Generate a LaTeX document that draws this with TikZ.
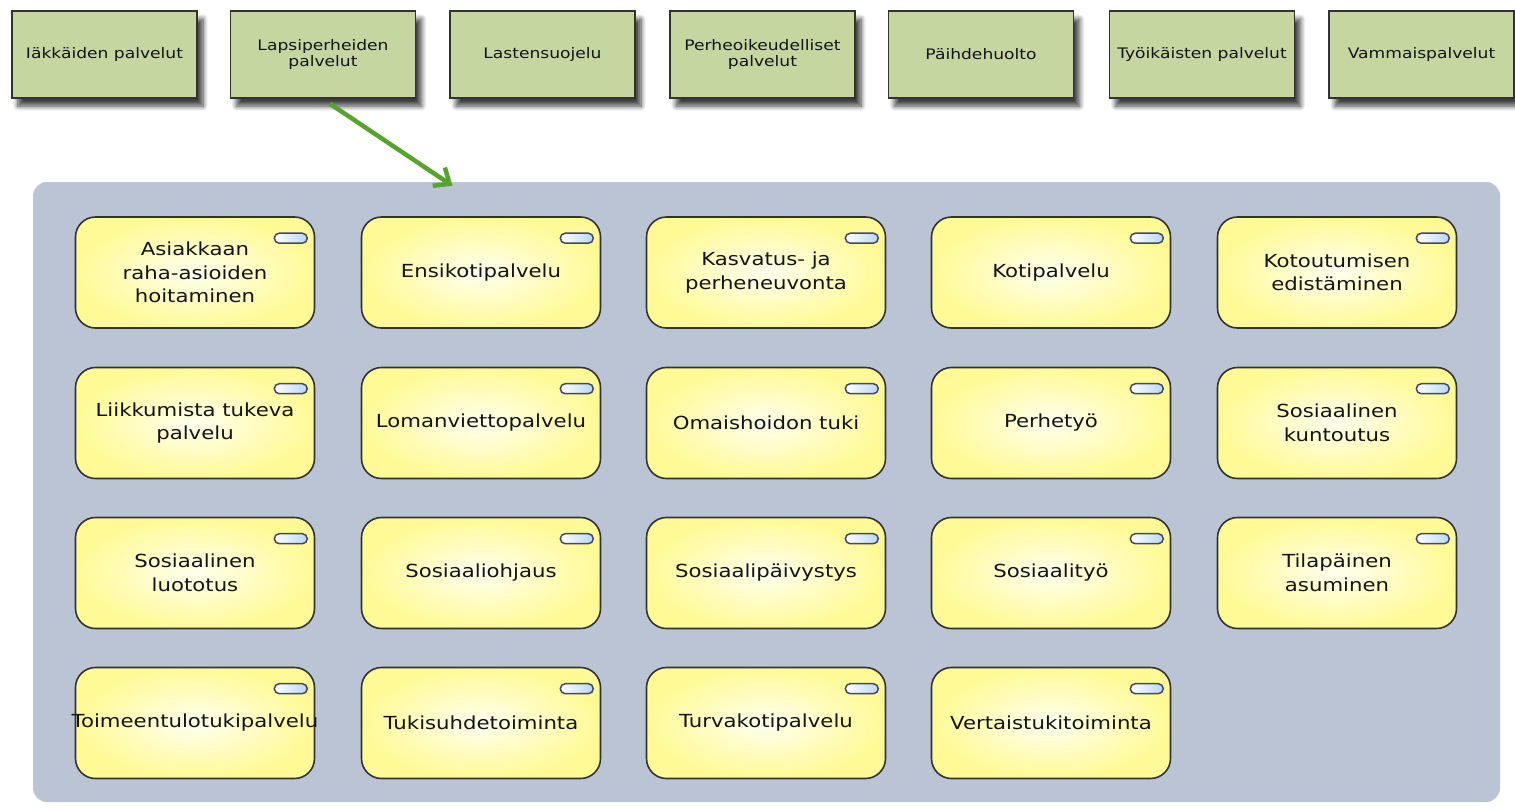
\documentclass[tikz,border=0pt]{standalone}
\usepackage{fontspec}
\setmainfont{DejaVu Sans}[FakeStretch=1.18]
\usetikzlibrary{arrows.meta,shadows.blur}
\definecolor{gfill}{RGB}{197,214,160}
\definecolor{cfill}{RGB}{186,196,213}
\definecolor{yout}{RGB}{255,250,150}
\definecolor{yin}{RGB}{255,255,238}
\definecolor{pillblue}{RGB}{185,215,248}
\definecolor{pillline}{RGB}{70,70,105}
\definecolor{arrgreen}{RGB}{88,162,48}
\definecolor{txt}{RGB}{20,20,20}
\definecolor{edge}{RGB}{50,50,50}
\tikzset{
  gbox/.style={draw=edge, line width=1.6pt, fill=gfill, minimum width=185pt, minimum height=87pt,
    inner sep=0pt, align=center, text=txt, font=\fontsize{14.5}{16}\selectfont,
    blur shadow={shadow xshift=6pt, shadow yshift=-8pt, shadow blur radius=5pt, shadow blur steps=8, shadow opacity=75}},
  container/.style={fill=cfill, rounded corners=14pt, minimum width=1467pt, minimum height=620pt, inner sep=0pt},
  ybox/.style={draw=edge, line width=1.6pt, rounded corners=20pt, inner color=yin, outer color=yout,
    minimum width=239pt, minimum height=111pt, inner sep=0pt},
  ytext/.style={align=center, text=txt, inner sep=0pt, font=\fontsize{18}{23.5}\selectfont},
  pill/.style={draw=pillline, line width=1.5pt, rounded corners=5pt, left color=white, right color=pillblue,
    minimum width=33pt, minimum height=10pt, inner sep=0pt},
  arr/.style={draw=arrgreen, line width=4.5pt, -{Straight Barb[length=13pt,width=22pt,line width=4.5pt]}}
}
\begin{document}
\begin{tikzpicture}[x=1pt,y=-1pt]
\useasboundingbox (0,0) rectangle (1515,809);
\node[container] (cont) at (766.5,492) {};
% top green boxes
\node[gbox] (g1) at (104.5,54.5) {Iäkkäiden palvelut};
\node[gbox] (g2) at (323,54.5) {Lapsiperheiden\\palvelut};
\node[gbox] (g3) at (542.5,54.5) {Lastensuojelu};
\node[gbox] (g4) at (762.5,54.5) {Perheoikeudelliset\\palvelut};
\node[gbox] (g5) at (981,54.5) {Päihdehuolto};
\node[gbox] (g6) at (1202,54.5) {Työikäisten palvelut};
\node[gbox] (g7) at (1421.5,54.5) {Vammaispalvelut};
% arrow
\draw[arr] ([xshift=7pt,yshift=-5pt]g2.south) -- ([xshift=-314pt,yshift=-4pt]cont.north);
% yellow service boxes
\foreach \nm/\cx/\cy/\tx in {
  a1/195/272.5/{Asiakkaan\\raha-asioiden\\hoitaminen},
  a2/481/272.5/{Ensikotipalvelu},
  a3/766/272.5/{Kasvatus- ja\\perheneuvonta},
  a4/1051/272.5/{Kotipalvelu},
  a5/1337/272.5/{Kotoutumisen\\edistäminen},
  b1/195/423/{Liikkumista tukeva\\palvelu},
  b2/481/423/{Lomanviettopalvelu},
  b3/766/423/{Omaishoidon tuki},
  b4/1051/423/{Perhetyö},
  b5/1337/423/{Sosiaalinen\\kuntoutus},
  c1/195/573/{Sosiaalinen\\luototus},
  c2/481/573/{Sosiaaliohjaus},
  c3/766/573/{Sosiaalipäivystys},
  c4/1051/573/{Sosiaalityö},
  c5/1337/573/{Tilapäinen\\asuminen},
  d1/195/723/{Toimeentulotukipalvelu},
  d2/481/723/{Tukisuhdetoiminta},
  d3/766/723/{Turvakotipalvelu},
  d4/1051/723/{Vertaistukitoiminta}}
{
  \node[ybox] (\nm) at (\cx,\cy) {};
  \node[ytext] (\nm-t) at (\nm) {\tx};
  \node[pill] (\nm-p) at ([xshift=-24.5pt,yshift=-22pt]\nm.north east) {};
}
\end{tikzpicture}
\end{document}
